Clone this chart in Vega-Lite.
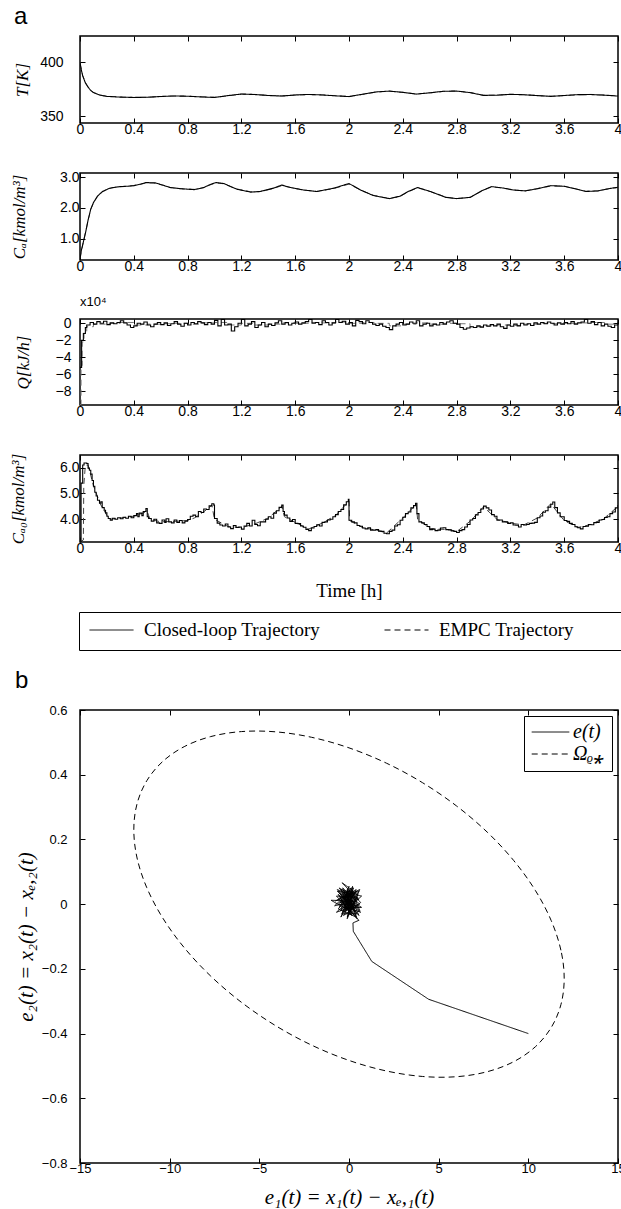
{
"$schema": "https://vega.github.io/schema/vega-lite/v6.json",
"background": "white",
"padding": {"left": 8, "top": 3, "right": 0, "bottom": 0},
"config": {
  "view": {"stroke": "black", "strokeWidth": 1.5},
  "axis": {"domain": false, "grid": false, "tickSize": -5, "tickColor": "black", "tickWidth": 1, "labelFont": "Liberation Sans", "labelFontSize": 14, "labelColor": "black", "labelFlush": false, "labelOverlap": false, "titleFont": "Liberation Serif", "titleFontStyle": "italic", "titleFontWeight": "normal", "titleFontSize": 17, "titleColor": "black"},
  "title": {"font": "Liberation Sans", "fontWeight": "normal", "color": "black", "anchor": "start", "frame": "group", "baseline": "alphabetic"}
},
"datasets": {
  "T": [
    {"t":0,"cl":400,"empc":399},{"t":0.01,"cl":393,"empc":393.5},{"t":0.02,"cl":387.5,"empc":388},{"t":0.04,"cl":381,"empc":381.5},{"t":0.06,"cl":377,"empc":377.3},{"t":0.08,"cl":374,"empc":374.2},{"t":0.1,"cl":372,"empc":372.1},{"t":0.15,"cl":369.6,"empc":369.7},{"t":0.2,"cl":368.5,"empc":368.6},{"t":0.3,"cl":367.8,"empc":367.9},{"t":0.4,"cl":367.5,"empc":367.5},{"t":0.5,"cl":367.7,"empc":367.6},{"t":0.6,"cl":368.4,"empc":368.3},{"t":0.7,"cl":368.9,"empc":368.8},{"t":0.8,"cl":368.6,"empc":368.7},{"t":0.9,"cl":368.0,"empc":368.1},{"t":1.0,"cl":367.5,"empc":367.6},{"t":1.1,"cl":369.2,"empc":369.0},{"t":1.2,"cl":370.7,"empc":370.5},{"t":1.3,"cl":370.2,"empc":370.3},{"t":1.4,"cl":369.3,"empc":369.4},{"t":1.5,"cl":368.8,"empc":368.9},{"t":1.6,"cl":369.8,"empc":369.7},{"t":1.7,"cl":370.3,"empc":370.2},{"t":1.8,"cl":369.8,"empc":369.9},{"t":1.9,"cl":369.0,"empc":369.1},{"t":2.0,"cl":368.3,"empc":368.4},{"t":2.1,"cl":370.5,"empc":370.3},{"t":2.2,"cl":372.6,"empc":372.5},{"t":2.3,"cl":373.4,"empc":373.3},{"t":2.4,"cl":372.2,"empc":372.3},{"t":2.5,"cl":370.6,"empc":370.7},{"t":2.6,"cl":371.8,"empc":371.7},{"t":2.7,"cl":373.2,"empc":373.1},{"t":2.8,"cl":373.4,"empc":373.5},{"t":2.9,"cl":372.0,"empc":372.1},{"t":3.0,"cl":369.4,"empc":369.5},{"t":3.1,"cl":369.6,"empc":369.7},{"t":3.2,"cl":370.4,"empc":370.3},{"t":3.3,"cl":370.0,"empc":370.1},{"t":3.4,"cl":369.2,"empc":369.3},{"t":3.5,"cl":368.5,"empc":368.6},{"t":3.6,"cl":369.3,"empc":369.2},{"t":3.7,"cl":370.1,"empc":370.0},{"t":3.8,"cl":370.2,"empc":370.3},{"t":3.9,"cl":369.6,"empc":369.7},{"t":4.0,"cl":368.8,"empc":368.9}
  ],
  "CA": [
    {"t":0,"cl":0.34,"empc":0.36},{"t":0.01,"cl":0.62,"empc":0.6},{"t":0.02,"cl":0.8,"empc":0.8},{"t":0.043,"cl":1.23,"empc":1.25},{"t":0.06,"cl":1.6,"empc":1.6},{"t":0.08,"cl":1.96,"empc":1.95},{"t":0.1,"cl":2.17,"empc":2.16},{"t":0.13,"cl":2.38,"empc":2.37},{"t":0.167,"cl":2.53,"empc":2.52},{"t":0.216,"cl":2.63,"empc":2.63},{"t":0.25,"cl":2.66,"empc":2.66},{"t":0.3,"cl":2.69,"empc":2.68},{"t":0.35,"cl":2.7,"empc":2.7},{"t":0.4,"cl":2.72,"empc":2.72},{"t":0.45,"cl":2.77,"empc":2.76},{"t":0.49,"cl":2.82,"empc":2.81},{"t":0.56,"cl":2.81,"empc":2.8},{"t":0.62,"cl":2.73,"empc":2.73},{"t":0.67,"cl":2.66,"empc":2.66},{"t":0.75,"cl":2.62,"empc":2.62},{"t":0.85,"cl":2.59,"empc":2.6},{"t":0.92,"cl":2.66,"empc":2.65},{"t":0.97,"cl":2.76,"empc":2.75},{"t":1.01,"cl":2.82,"empc":2.81},{"t":1.07,"cl":2.79,"empc":2.78},{"t":1.12,"cl":2.69,"empc":2.69},{"t":1.17,"cl":2.6,"empc":2.61},{"t":1.27,"cl":2.51,"empc":2.52},{"t":1.34,"cl":2.53,"empc":2.53},{"t":1.44,"cl":2.64,"empc":2.63},{"t":1.5,"cl":2.74,"empc":2.72},{"t":1.565,"cl":2.66,"empc":2.66},{"t":1.66,"cl":2.58,"empc":2.58},{"t":1.76,"cl":2.53,"empc":2.53},{"t":1.89,"cl":2.64,"empc":2.63},{"t":2.0,"cl":2.79,"empc":2.77},{"t":2.085,"cl":2.58,"empc":2.58},{"t":2.18,"cl":2.4,"empc":2.41},{"t":2.3,"cl":2.3,"empc":2.3},{"t":2.38,"cl":2.38,"empc":2.37},{"t":2.44,"cl":2.53,"empc":2.52},{"t":2.51,"cl":2.66,"empc":2.65},{"t":2.605,"cl":2.53,"empc":2.53},{"t":2.72,"cl":2.34,"empc":2.35},{"t":2.8,"cl":2.3,"empc":2.3},{"t":2.9,"cl":2.34,"empc":2.34},{"t":2.99,"cl":2.56,"empc":2.55},{"t":3.06,"cl":2.69,"empc":2.68},{"t":3.15,"cl":2.64,"empc":2.64},{"t":3.22,"cl":2.58,"empc":2.58},{"t":3.31,"cl":2.55,"empc":2.55},{"t":3.4,"cl":2.62,"empc":2.62},{"t":3.5,"cl":2.72,"empc":2.71},{"t":3.6,"cl":2.7,"empc":2.7},{"t":3.68,"cl":2.62,"empc":2.62},{"t":3.76,"cl":2.53,"empc":2.54},{"t":3.85,"cl":2.55,"empc":2.55},{"t":3.93,"cl":2.62,"empc":2.62},{"t":4.0,"cl":2.67,"empc":2.66}
  ],
  "Qcl": [
    {"t":0,"v":-5.2},{"t":0.012,"v":-2.0},{"t":0.025,"v":-1.2},{"t":0.04,"v":-0.5},{"t":0.05,"v":-0.2},{"t":0.075,"v":0.1},{"t":0.1,"v":-0.1},{"t":0.125,"v":0.2},{"t":0.15,"v":0.0},{"t":0.175,"v":0.25},{"t":0.2,"v":-0.15},{"t":0.225,"v":0.05},{"t":0.25,"v":-0.05},{"t":0.275,"v":0.1},{"t":0.3,"v":0.3},{"t":0.325,"v":0.05},{"t":0.35,"v":-0.2},{"t":0.375,"v":-0.5},{"t":0.4,"v":-0.3},{"t":0.425,"v":0.0},{"t":0.45,"v":-0.1},{"t":0.475,"v":0.15},{"t":0.5,"v":-0.2},{"t":0.525,"v":-0.4},{"t":0.55,"v":-0.1},{"t":0.575,"v":0.1},{"t":0.6,"v":-0.15},{"t":0.625,"v":0.05},{"t":0.65,"v":-0.25},{"t":0.675,"v":-0.05},{"t":0.7,"v":0.2},{"t":0.725,"v":-0.1},{"t":0.75,"v":-0.35},{"t":0.775,"v":0.0},{"t":0.8,"v":-0.2},{"t":0.825,"v":0.1},{"t":0.85,"v":-0.05},{"t":0.875,"v":0.2},{"t":0.9,"v":0.05},{"t":0.925,"v":-0.15},{"t":0.95,"v":0.1},{"t":0.975,"v":-0.1},{"t":1.0,"v":0.35},{"t":1.025,"v":-0.3},{"t":1.05,"v":0.45},{"t":1.075,"v":-0.2},{"t":1.1,"v":-0.1},{"t":1.125,"v":-0.9},{"t":1.15,"v":-0.4},{"t":1.175,"v":0.0},{"t":1.2,"v":0.45},{"t":1.225,"v":-0.3},{"t":1.25,"v":-0.1},{"t":1.275,"v":0.2},{"t":1.3,"v":-0.5},{"t":1.325,"v":-0.2},{"t":1.35,"v":0.1},{"t":1.375,"v":-0.4},{"t":1.4,"v":-0.1},{"t":1.425,"v":-0.25},{"t":1.45,"v":0.05},{"t":1.475,"v":0.3},{"t":1.5,"v":-0.1},{"t":1.525,"v":0.1},{"t":1.55,"v":-0.2},{"t":1.575,"v":0.0},{"t":1.6,"v":0.15},{"t":1.625,"v":-0.1},{"t":1.65,"v":0.05},{"t":1.675,"v":0.2},{"t":1.7,"v":0.45},{"t":1.725,"v":0.0},{"t":1.75,"v":0.1},{"t":1.775,"v":-0.15},{"t":1.8,"v":0.3},{"t":1.825,"v":0.1},{"t":1.85,"v":-0.2},{"t":1.875,"v":0.05},{"t":1.9,"v":0.45},{"t":1.925,"v":0.1},{"t":1.95,"v":0.25},{"t":1.975,"v":-0.1},{"t":2.0,"v":0.1},{"t":2.025,"v":-0.3},{"t":2.05,"v":0.35},{"t":2.075,"v":0.2},{"t":2.1,"v":-0.05},{"t":2.125,"v":0.3},{"t":2.15,"v":0.1},{"t":2.175,"v":-0.1},{"t":2.2,"v":-0.25},{"t":2.225,"v":-0.1},{"t":2.25,"v":-0.35},{"t":2.275,"v":-0.5},{"t":2.3,"v":-0.75},{"t":2.325,"v":-0.3},{"t":2.35,"v":-0.1},{"t":2.375,"v":0.1},{"t":2.4,"v":-0.2},{"t":2.425,"v":-0.1},{"t":2.45,"v":0.15},{"t":2.475,"v":0.0},{"t":2.5,"v":0.3},{"t":2.525,"v":-0.3},{"t":2.55,"v":-0.1},{"t":2.575,"v":0.0},{"t":2.6,"v":-0.3},{"t":2.625,"v":-0.1},{"t":2.65,"v":-0.2},{"t":2.675,"v":0.1},{"t":2.7,"v":-0.1},{"t":2.725,"v":0.15},{"t":2.75,"v":0.3},{"t":2.775,"v":0.0},{"t":2.8,"v":-0.1},{"t":2.825,"v":-0.5},{"t":2.85,"v":-0.7},{"t":2.875,"v":-0.55},{"t":2.9,"v":-0.4},{"t":2.925,"v":-0.5},{"t":2.95,"v":-0.3},{"t":2.975,"v":-0.45},{"t":3.0,"v":-0.2},{"t":3.025,"v":-0.35},{"t":3.05,"v":-0.15},{"t":3.075,"v":-0.3},{"t":3.1,"v":-0.1},{"t":3.125,"v":-0.4},{"t":3.15,"v":-0.6},{"t":3.175,"v":-0.2},{"t":3.2,"v":-0.35},{"t":3.225,"v":-0.1},{"t":3.25,"v":-0.3},{"t":3.275,"v":0.0},{"t":3.3,"v":-0.2},{"t":3.325,"v":-0.05},{"t":3.35,"v":-0.25},{"t":3.375,"v":0.05},{"t":3.4,"v":-0.1},{"t":3.425,"v":0.1},{"t":3.45,"v":-0.05},{"t":3.475,"v":0.15},{"t":3.5,"v":0.0},{"t":3.525,"v":-0.2},{"t":3.55,"v":0.05},{"t":3.575,"v":-0.1},{"t":3.6,"v":0.1},{"t":3.625,"v":-0.05},{"t":3.65,"v":0.2},{"t":3.675,"v":-0.1},{"t":3.7,"v":0.05},{"t":3.725,"v":0.15},{"t":3.75,"v":0.45},{"t":3.775,"v":0.0},{"t":3.8,"v":0.2},{"t":3.825,"v":-0.15},{"t":3.85,"v":0.1},{"t":3.875,"v":-0.3},{"t":3.9,"v":-0.1},{"t":3.925,"v":-0.35},{"t":3.95,"v":-0.5},{"t":3.975,"v":-0.2},{"t":4.0,"v":0.1}
  ],
  "Qempc": [
    {"t":0,"v":-9.6},{"t":0.008,"v":-5.0},{"t":0.016,"v":-2.2},{"t":0.03,"v":-1.0},{"t":0.05,"v":-0.4},{"t":0.1,"v":-0.1},{"t":0.2,"v":0.0},{"t":0.3,"v":0.1},{"t":0.4,"v":-0.2},{"t":0.5,"v":-0.1},{"t":0.6,"v":-0.05},{"t":0.7,"v":0.0},{"t":0.8,"v":-0.1},{"t":0.9,"v":0.05},{"t":1.0,"v":0.1},{"t":1.1,"v":-0.2},{"t":1.2,"v":0.0},{"t":1.3,"v":-0.2},{"t":1.4,"v":-0.1},{"t":1.5,"v":0.05},{"t":1.6,"v":0.0},{"t":1.7,"v":0.1},{"t":1.8,"v":0.05},{"t":1.9,"v":0.15},{"t":2.0,"v":0.0},{"t":2.1,"v":0.1},{"t":2.2,"v":0.0},{"t":2.3,"v":-0.3},{"t":2.4,"v":-0.1},{"t":2.5,"v":0.05},{"t":2.6,"v":-0.1},{"t":2.7,"v":0.0},{"t":2.8,"v":-0.05},{"t":2.9,"v":-0.4},{"t":3.0,"v":-0.3},{"t":3.1,"v":-0.2},{"t":3.2,"v":-0.25},{"t":3.3,"v":-0.1},{"t":3.4,"v":0.0},{"t":3.5,"v":-0.05},{"t":3.6,"v":0.0},{"t":3.7,"v":0.05},{"t":3.8,"v":0.1},{"t":3.9,"v":-0.1},{"t":4.0,"v":-0.05}
  ],
  "CA0cl": [
    {"t":0,"v":3.12},{"t":0.008,"v":5.4},{"t":0.02,"v":6.1},{"t":0.03,"v":6.18},{"t":0.05,"v":6.16},{"t":0.06,"v":5.98},{"t":0.07,"v":5.9},{"t":0.08,"v":5.75},{"t":0.09,"v":5.5},{"t":0.1,"v":5.28},{"t":0.11,"v":5.05},{"t":0.12,"v":4.9},{"t":0.13,"v":4.74},{"t":0.145,"v":4.62},{"t":0.155,"v":4.68},{"t":0.165,"v":4.45},{"t":0.18,"v":4.35},{"t":0.19,"v":4.25},{"t":0.2,"v":4.12},{"t":0.21,"v":4.03},{"t":0.225,"v":3.96},{"t":0.24,"v":4.04},{"t":0.26,"v":4.0},{"t":0.28,"v":4.06},{"t":0.3,"v":4.02},{"t":0.32,"v":4.08},{"t":0.34,"v":4.04},{"t":0.36,"v":4.12},{"t":0.38,"v":4.06},{"t":0.4,"v":4.14},{"t":0.42,"v":4.22},{"t":0.43,"v":4.1},{"t":0.44,"v":4.24},{"t":0.46,"v":4.14},{"t":0.47,"v":4.3},{"t":0.49,"v":4.42},{"t":0.5,"v":4.1},{"t":0.51,"v":4.03},{"t":0.53,"v":3.93},{"t":0.55,"v":4.0},{"t":0.57,"v":3.86},{"t":0.59,"v":3.84},{"t":0.61,"v":3.97},{"t":0.63,"v":3.88},{"t":0.64,"v":4.02},{"t":0.66,"v":3.9},{"t":0.68,"v":3.86},{"t":0.7,"v":3.97},{"t":0.72,"v":3.88},{"t":0.74,"v":3.95},{"t":0.76,"v":3.86},{"t":0.78,"v":3.93},{"t":0.8,"v":3.99},{"t":0.82,"v":4.12},{"t":0.84,"v":4.16},{"t":0.86,"v":4.1},{"t":0.88,"v":4.3},{"t":0.9,"v":4.26},{"t":0.92,"v":4.4},{"t":0.94,"v":4.38},{"t":0.96,"v":4.52},{"t":0.98,"v":4.6},{"t":0.995,"v":4.55},{"t":1.0,"v":4.03},{"t":1.02,"v":3.85},{"t":1.04,"v":3.78},{"t":1.06,"v":3.74},{"t":1.08,"v":3.82},{"t":1.1,"v":3.7},{"t":1.12,"v":3.64},{"t":1.14,"v":3.76},{"t":1.16,"v":3.68},{"t":1.18,"v":3.7},{"t":1.2,"v":3.62},{"t":1.22,"v":3.74},{"t":1.24,"v":3.84},{"t":1.26,"v":3.74},{"t":1.28,"v":3.96},{"t":1.3,"v":3.8},{"t":1.32,"v":3.75},{"t":1.34,"v":3.9},{"t":1.36,"v":3.9},{"t":1.38,"v":4.0},{"t":1.4,"v":4.1},{"t":1.42,"v":4.04},{"t":1.44,"v":4.24},{"t":1.46,"v":4.33},{"t":1.48,"v":4.46},{"t":1.5,"v":4.55},{"t":1.51,"v":4.3},{"t":1.52,"v":4.16},{"t":1.54,"v":4.05},{"t":1.56,"v":3.92},{"t":1.58,"v":3.99},{"t":1.6,"v":3.84},{"t":1.62,"v":3.83},{"t":1.64,"v":3.74},{"t":1.66,"v":3.69},{"t":1.68,"v":3.61},{"t":1.7,"v":3.56},{"t":1.72,"v":3.66},{"t":1.74,"v":3.72},{"t":1.76,"v":3.79},{"t":1.78,"v":3.74},{"t":1.8,"v":3.88},{"t":1.82,"v":3.9},{"t":1.84,"v":3.97},{"t":1.86,"v":4.0},{"t":1.88,"v":4.1},{"t":1.9,"v":4.18},{"t":1.92,"v":4.3},{"t":1.94,"v":4.38},{"t":1.96,"v":4.56},{"t":1.98,"v":4.68},{"t":1.995,"v":4.77},{"t":2.0,"v":3.96},{"t":2.02,"v":3.9},{"t":2.04,"v":3.86},{"t":2.06,"v":3.76},{"t":2.08,"v":3.73},{"t":2.1,"v":3.66},{"t":2.12,"v":3.63},{"t":2.14,"v":3.67},{"t":2.16,"v":3.58},{"t":2.18,"v":3.58},{"t":2.2,"v":3.6},{"t":2.22,"v":3.54},{"t":2.24,"v":3.53},{"t":2.26,"v":3.46},{"t":2.28,"v":3.44},{"t":2.3,"v":3.53},{"t":2.32,"v":3.58},{"t":2.34,"v":3.74},{"t":2.36,"v":3.79},{"t":2.38,"v":3.96},{"t":2.4,"v":4.08},{"t":2.42,"v":4.22},{"t":2.44,"v":4.28},{"t":2.46,"v":4.44},{"t":2.48,"v":4.53},{"t":2.495,"v":4.62},{"t":2.505,"v":4.22},{"t":2.52,"v":3.9},{"t":2.54,"v":3.86},{"t":2.56,"v":3.8},{"t":2.58,"v":3.72},{"t":2.6,"v":3.6},{"t":2.62,"v":3.62},{"t":2.64,"v":3.56},{"t":2.66,"v":3.58},{"t":2.68,"v":3.66},{"t":2.7,"v":3.67},{"t":2.72,"v":3.6},{"t":2.74,"v":3.59},{"t":2.76,"v":3.55},{"t":2.78,"v":3.53},{"t":2.8,"v":3.49},{"t":2.82,"v":3.56},{"t":2.84,"v":3.6},{"t":2.86,"v":3.7},{"t":2.88,"v":3.8},{"t":2.9,"v":3.97},{"t":2.92,"v":4.03},{"t":2.94,"v":4.17},{"t":2.96,"v":4.26},{"t":2.98,"v":4.4},{"t":3.0,"v":4.51},{"t":3.02,"v":4.44},{"t":3.04,"v":4.36},{"t":3.06,"v":4.18},{"t":3.08,"v":4.12},{"t":3.1,"v":3.96},{"t":3.12,"v":3.97},{"t":3.14,"v":3.9},{"t":3.16,"v":3.9},{"t":3.18,"v":3.84},{"t":3.2,"v":3.86},{"t":3.22,"v":3.78},{"t":3.24,"v":3.77},{"t":3.26,"v":3.7},{"t":3.28,"v":3.8},{"t":3.3,"v":3.78},{"t":3.32,"v":3.8},{"t":3.34,"v":3.84},{"t":3.36,"v":3.85},{"t":3.38,"v":3.88},{"t":3.4,"v":4.06},{"t":3.42,"v":4.13},{"t":3.44,"v":4.27},{"t":3.46,"v":4.33},{"t":3.48,"v":4.47},{"t":3.5,"v":4.58},{"t":3.515,"v":4.67},{"t":3.53,"v":4.45},{"t":3.55,"v":4.25},{"t":3.57,"v":4.1},{"t":3.6,"v":3.95},{"t":3.62,"v":3.92},{"t":3.64,"v":3.84},{"t":3.66,"v":3.8},{"t":3.68,"v":3.71},{"t":3.7,"v":3.67},{"t":3.72,"v":3.63},{"t":3.74,"v":3.72},{"t":3.76,"v":3.73},{"t":3.78,"v":3.8},{"t":3.8,"v":3.79},{"t":3.82,"v":3.87},{"t":3.84,"v":3.88},{"t":3.86,"v":3.97},{"t":3.88,"v":3.99},{"t":3.9,"v":4.07},{"t":3.92,"v":4.1},{"t":3.94,"v":4.22},{"t":3.96,"v":4.28},{"t":3.98,"v":4.44},{"t":4.0,"v":4.55}
  ],
  "CA0empc": [
    {"t":0,"v":3.12},{"t":0.025,"v":3.2},{"t":0.028,"v":5.3},{"t":0.04,"v":6.1},{"t":0.06,"v":6.1},{"t":0.1,"v":5.3},{"t":0.15,"v":4.6},{"t":0.2,"v":4.15},{"t":0.23,"v":4.0},{"t":0.3,"v":4.05},{"t":0.4,"v":4.12},{"t":0.5,"v":4.3},{"t":0.52,"v":4.0},{"t":0.6,"v":3.9},{"t":0.7,"v":3.92},{"t":0.8,"v":3.95},{"t":0.85,"v":4.05},{"t":0.95,"v":4.4},{"t":0.98,"v":4.55},{"t":1.0,"v":4.0},{"t":1.1,"v":3.72},{"t":1.2,"v":3.68},{"t":1.3,"v":3.82},{"t":1.4,"v":4.05},{"t":1.5,"v":4.5},{"t":1.52,"v":4.1},{"t":1.6,"v":3.88},{"t":1.7,"v":3.62},{"t":1.8,"v":3.85},{"t":1.9,"v":4.15},{"t":2.0,"v":4.7},{"t":2.005,"v":3.95},{"t":2.1,"v":3.68},{"t":2.2,"v":3.58},{"t":2.28,"v":3.47},{"t":2.4,"v":4.05},{"t":2.5,"v":4.58},{"t":2.51,"v":4.0},{"t":2.6,"v":3.65},{"t":2.65,"v":3.62},{"t":2.75,"v":3.6},{"t":2.8,"v":3.52},{"t":2.9,"v":3.92},{"t":3.0,"v":4.48},{"t":3.1,"v":4.0},{"t":3.2,"v":3.85},{"t":3.3,"v":3.78},{"t":3.4,"v":4.05},{"t":3.5,"v":4.6},{"t":3.6,"v":3.95},{"t":3.7,"v":3.68},{"t":3.8,"v":3.8},{"t":3.9,"v":4.05},{"t":4.0,"v":4.5}
  ],
  "ell": [
    {"i":0,"x":12,"y":-0.23},{"i":1,"x":11.818,"y":-0.1426},{"i":2,"x":11.276,"y":-0.0509},{"i":3,"x":10.392,"y":0.0423},{"i":4,"x":9.192,"y":0.1343},{"i":5,"x":7.714,"y":0.2222},{"i":6,"x":6.0,"y":0.3033},{"i":7,"x":4.104,"y":0.3752},{"i":8,"x":2.083,"y":0.4358},{"i":9,"x":0,"y":0.483},{"i":10,"x":-2.083,"y":0.5156},{"i":11,"x":-4.104,"y":0.5326},{"i":12,"x":-6.0,"y":0.5333},{"i":13,"x":-7.714,"y":0.5178},{"i":14,"x":-9.192,"y":0.4867},{"i":15,"x":-10.392,"y":0.4407},{"i":16,"x":-11.276,"y":0.3813},{"i":17,"x":-11.818,"y":0.3104},{"i":18,"x":-12,"y":0.23},{"i":19,"x":-11.818,"y":0.1426},{"i":20,"x":-11.276,"y":0.0509},{"i":21,"x":-10.392,"y":-0.0423},{"i":22,"x":-9.192,"y":-0.1343},{"i":23,"x":-7.714,"y":-0.2222},{"i":24,"x":-6.0,"y":-0.3033},{"i":25,"x":-4.104,"y":-0.3752},{"i":26,"x":-2.083,"y":-0.4358},{"i":27,"x":0,"y":-0.483},{"i":28,"x":2.083,"y":-0.5156},{"i":29,"x":4.104,"y":-0.5326},{"i":30,"x":6.0,"y":-0.5333},{"i":31,"x":7.714,"y":-0.5178},{"i":32,"x":9.192,"y":-0.4867},{"i":33,"x":10.392,"y":-0.4407},{"i":34,"x":11.276,"y":-0.3813},{"i":35,"x":11.818,"y":-0.3104}
  ],
  "traj": [
    {"i":0,"x":10,"y":-0.4},{"i":1,"x":4.44,"y":-0.294},{"i":2,"x":1.27,"y":-0.177},{"i":3,"x":0.24,"y":-0.084},{"i":4,"x":0.22,"y":-0.058},{"i":5,"x":0.55,"y":-0.05},{"i":6,"x":0.3,"y":-0.035},{"i":7,"x":-0.2,"y":0.02},{"i":8,"x":0.45,"y":0.04},{"i":9,"x":-0.55,"y":-0.01},{"i":10,"x":0.1,"y":0.05},{"i":11,"x":0.6,"y":-0.02},{"i":12,"x":-0.35,"y":0.035},{"i":13,"x":0.2,"y":-0.03},{"i":14,"x":-0.7,"y":0.025},{"i":15,"x":0.35,"y":0.02},{"i":16,"x":-0.1,"y":-0.04},{"i":17,"x":0.5,"y":0.03},{"i":18,"x":-0.45,"y":0.045},{"i":19,"x":0.0,"y":-0.02},{"i":20,"x":-1.0,"y":0.012},{"i":21,"x":0.15,"y":0.01},{"i":22,"x":-0.3,"y":-0.035},{"i":23,"x":0.65,"y":0.005},{"i":24,"x":-0.2,"y":0.055},{"i":25,"x":-0.38,"y":0.066},{"i":26,"x":0.25,"y":0.04},{"i":27,"x":-0.6,"y":-0.015},{"i":28,"x":0.4,"y":-0.04},{"i":29,"x":-0.15,"y":0.03},{"i":30,"x":0.55,"y":0.015},{"i":31,"x":-0.5,"y":0.005},{"i":32,"x":0.05,"y":0.045},{"i":33,"x":-0.25,"y":-0.025},{"i":34,"x":0.7,"y":0.025},{"i":35,"x":-0.65,"y":0.04},{"i":36,"x":0.3,"y":-0.015},{"i":37,"x":-0.05,"y":0.02},{"i":38,"x":0.45,"y":-0.03},{"i":39,"x":-0.4,"y":-0.03},{"i":40,"x":0.1,"y":0.035},{"i":41,"x":-0.75,"y":0.01},{"i":42,"x":0.6,"y":0.045},{"i":43,"x":-0.1,"y":-0.045},{"i":44,"x":0.2,"y":0.025},{"i":45,"x":-0.55,"y":0.05},{"i":46,"x":0.5,"y":-0.01},{"i":47,"x":-0.3,"y":0.015},{"i":48,"x":0.0,"y":0.055},{"i":49,"x":-0.45,"y":-0.02},{"i":50,"x":0.35,"y":0.035},{"i":51,"x":-0.15,"y":-0.01},{"i":52,"x":0.65,"y":-0.025},{"i":53,"x":-0.6,"y":0.03},{"i":54,"x":0.15,"y":-0.035},{"i":55,"x":-0.35,"y":0.05},{"i":56,"x":0.4,"y":0.01},{"i":57,"x":-0.8,"y":-0.005},{"i":58,"x":0.25,"y":0.05},{"i":59,"x":-0.2,"y":-0.02},{"i":60,"x":0.55,"y":0.04},{"i":61,"x":-0.5,"y":0.02},{"i":62,"x":0.05,"y":-0.03},{"i":63,"x":-0.25,"y":0.04},{"i":64,"x":0.6,"y":0.0},{"i":65,"x":-0.7,"y":-0.025},{"i":66,"x":0.3,"y":0.025},{"i":67,"x":-0.1,"y":0.045},{"i":68,"x":0.45,"y":-0.045},{"i":69,"x":-0.4,"y":0.01},{"i":70,"x":0.1,"y":0.0},{"i":71,"x":-0.65,"y":0.045},{"i":72,"x":0.5,"y":0.02},{"i":73,"x":-0.05,"y":-0.03},{"i":74,"x":0.2,"y":0.055},{"i":75,"x":-0.3,"y":-0.01},{"i":76,"x":0.7,"y":-0.01},{"i":77,"x":-0.55,"y":0.035},{"i":78,"x":0.35,"y":-0.025},{"i":79,"x":-0.15,"y":0.025},{"i":80,"x":0.4,"y":0.045},{"i":81,"x":-0.45,"y":-0.04},{"i":82,"x":0.05,"y":0.03},{"i":83,"x":0.55,"y":-0.035},{"i":84,"x":-0.25,"y":0.015},{"i":85,"x":0.25,"y":-0.005},{"i":86,"x":-0.6,"y":0.0},{"i":87,"x":0.15,"y":0.04},{"i":88,"x":-0.1,"y":0.01},{"i":89,"x":0.3,"y":0.0}
  ]
},
"bounds": "flush",
"spacing": 0,
"resolve": {"scale": {"strokeDash": "independent"}, "legend": {"strokeDash": "independent"}},
"vconcat": [
   {
    "width": 538, "height": 87,
    "title": {"text": "a", "dx": -66, "offset": 7, "fontSize": 24},
    "data": {"name": "T"},
    "layer": [
     {"mark": {"type": "line", "color": "#555", "strokeWidth": 1, "clip": true},
      "encoding": {
       "x": {"field": "t", "type": "quantitative", "scale": {"domain": [0, 4], "nice": false, "zero": false}, "axis": {"values": [0,0.4,0.8,1.2,1.6,2,2.4,2.8,3.2,3.6,4], "format": "~g", "title": null, "labelPadding": 4}},
       "y": {"field": "empc", "type": "quantitative", "scale": {"domain": [343.8, 424.5], "nice": false, "zero": false}, "axis": {"values": [350, 400], "format": "d", "title": "T[K]", "titleX": -58, "titleY": 43.5, "titleAngle": -90, "titleAlign": "center", "titleBaseline": "middle", "labelPadding": 22}},
       "strokeDash": {"datum": "EMPC Trajectory", "scale": {"domain": ["Closed-loop Trajectory", "EMPC Trajectory"], "range": [[1, 0], [6, 4]]}, "legend": null}}},
     {"mark": {"type": "line", "color": "black", "strokeWidth": 1.1, "clip": true},
      "encoding": {
       "x": {"field": "t", "type": "quantitative", "axis": {"orient": "top", "values": [0,0.4,0.8,1.2,1.6,2,2.4,2.8,3.2,3.6,4], "labels": false, "title": null}},
       "y": {"field": "cl", "type": "quantitative", "axis": {"orient": "right", "values": [350, 400], "labels": false, "title": null}},
       "strokeDash": {"datum": "Closed-loop Trajectory", "legend": null}}}
    ],
    "resolve": {"axis": {"x": "independent", "y": "independent"}}
   },
   {"width": 538, "height": 50, "data": {"values": []}, "mark": {"type": "point"}, "encoding": {}, "view": {"stroke": null}},
   {
    "width": 538, "height": 87,
    "data": {"name": "CA"},
    "layer": [
     {"mark": {"type": "line", "color": "#555", "strokeWidth": 1, "clip": true},
      "encoding": {
       "x": {"field": "t", "type": "quantitative", "scale": {"domain": [0, 4], "nice": false, "zero": false}, "axis": {"values": [0,0.4,0.8,1.2,1.6,2,2.4,2.8,3.2,3.6,4], "format": "~g", "title": null, "labelPadding": 4}},
       "y": {"field": "empc", "type": "quantitative", "scale": {"domain": [0.31, 3.13], "nice": false, "zero": false}, "axis": {"values": [1, 2, 3], "format": ".1f", "title": "Cₐ[kmol/m³]", "titleX": -61, "titleY": 43.5, "titleAngle": -90, "titleAlign": "center", "titleBaseline": "middle", "labelPadding": 6}},
       "strokeDash": {"datum": "EMPC Trajectory", "scale": {"domain": ["Closed-loop Trajectory", "EMPC Trajectory"], "range": [[1, 0], [6, 4]]}, "legend": null}}},
     {"mark": {"type": "line", "color": "black", "strokeWidth": 1.1, "clip": true},
      "encoding": {
       "x": {"field": "t", "type": "quantitative", "axis": {"orient": "top", "values": [0,0.4,0.8,1.2,1.6,2,2.4,2.8,3.2,3.6,4], "labels": false, "title": null}},
       "y": {"field": "cl", "type": "quantitative", "axis": {"orient": "right", "values": [1, 2, 3], "labels": false, "title": null}},
       "strokeDash": {"datum": "Closed-loop Trajectory", "legend": null}}}
    ],
    "resolve": {"axis": {"x": "independent", "y": "independent"}}
   },
   {"width": 538, "height": 59, "data": {"values": []}, "mark": {"type": "point"}, "encoding": {}, "view": {"stroke": null}},
   {
    "width": 538, "height": 86,
    "title": {"text": "x10⁴", "dx": 0, "offset": 7, "fontSize": 13},
    "layer": [
     {"data": {"name": "Qempc"},
      "mark": {"type": "line", "color": "#777", "strokeWidth": 1, "interpolate": "step-after", "clip": true},
      "encoding": {
       "x": {"field": "t", "type": "quantitative", "scale": {"domain": [0, 4], "nice": false, "zero": false}, "axis": {"values": [0,0.4,0.8,1.2,1.6,2,2.4,2.8,3.2,3.6,4], "format": "~g", "title": null, "labelPadding": 4}},
       "y": {"field": "v", "type": "quantitative", "scale": {"domain": [-9.65, 0.51], "nice": false, "zero": false}, "axis": {"values": [-8, -6, -4, -2, 0], "format": "d", "title": "Q[kJ/h]", "titleX": -57, "titleY": 43, "titleAngle": -90, "titleAlign": "center", "titleBaseline": "middle", "labelPadding": 14}},
       "strokeDash": {"datum": "EMPC Trajectory", "scale": {"domain": ["Closed-loop Trajectory", "EMPC Trajectory"], "range": [[1, 0], [6, 4]]}, "legend": null}}},
     {"data": {"name": "Qcl"},
      "mark": {"type": "line", "color": "black", "strokeWidth": 1.1, "interpolate": "step-after", "clip": true},
      "encoding": {
       "x": {"field": "t", "type": "quantitative", "axis": {"orient": "top", "values": [0,0.4,0.8,1.2,1.6,2,2.4,2.8,3.2,3.6,4], "labels": false, "title": null}},
       "y": {"field": "v", "type": "quantitative", "axis": {"orient": "right", "values": [-8, -6, -4, -2, 0], "labels": false, "title": null}},
       "strokeDash": {"datum": "Closed-loop Trajectory", "legend": null}}}
    ],
    "resolve": {"axis": {"x": "independent", "y": "independent"}}
   },
   {"width": 538, "height": 50, "data": {"values": []}, "mark": {"type": "point"}, "encoding": {}, "view": {"stroke": null}},
   {
    "width": 538, "height": 87,
    "layer": [
     {"data": {"name": "CA0empc"},
      "mark": {"type": "line", "color": "#444", "strokeWidth": 1, "clip": true},
      "encoding": {
       "x": {"field": "t", "type": "quantitative", "scale": {"domain": [0, 4], "nice": false, "zero": false}, "axis": {"values": [0,0.4,0.8,1.2,1.6,2,2.4,2.8,3.2,3.6,4], "format": "~g", "title": "Time [h]", "titleFontStyle": "normal", "titleFontSize": 19, "titleX": 269, "titleY": 48, "titleAlign": "center", "titleBaseline": "middle", "labelPadding": 4}},
       "y": {"field": "v", "type": "quantitative", "scale": {"domain": [3.12, 6.49], "nice": false, "zero": false}, "axis": {"values": [4, 5, 6], "format": ".1f", "title": "Cₐ₀[kmol/m³]", "titleX": -62, "titleY": 43.5, "titleAngle": -90, "titleAlign": "center", "titleBaseline": "middle", "labelPadding": 6}},
       "strokeDash": {"datum": "EMPC Trajectory", "scale": {"domain": ["Closed-loop Trajectory", "EMPC Trajectory"], "range": [[1, 0], [6, 4]]},
        "legend": {"orient": "none", "legendX": -1, "legendY": 157, "direction": "horizontal", "title": " ", "titleOrient": "right", "titlePadding": 39, "titleFontSize": 10, "padding": 10, "clipHeight": 16, "strokeColor": "black", "fillColor": "white", "symbolType": "stroke", "symbolSize": 1936, "symbolStrokeColor": "black", "symbolStrokeWidth": 1, "labelFont": "Liberation Serif", "labelFontStyle": "normal", "labelFontSize": 19, "labelColor": "black", "labelOffset": 10, "columnPadding": 63, "labelLimit": 400}}}},
     {"data": {"name": "CA0cl"},
      "mark": {"type": "line", "color": "black", "strokeWidth": 1.1, "interpolate": "step-after", "clip": true},
      "encoding": {
       "x": {"field": "t", "type": "quantitative", "axis": {"orient": "top", "values": [0,0.4,0.8,1.2,1.6,2,2.4,2.8,3.2,3.6,4], "labels": false, "title": null}},
       "y": {"field": "v", "type": "quantitative", "axis": {"orient": "right", "values": [4, 5, 6], "labels": false, "title": null}},
       "strokeDash": {"datum": "Closed-loop Trajectory"}}}
    ],
    "resolve": {"axis": {"x": "independent", "y": "independent"}}
   },
   {"width": 538, "height": 168, "data": {"values": []}, "mark": {"type": "point"}, "encoding": {}, "view": {"stroke": null}},
   {
    "width": 538, "height": 453,
    "title": {"text": "b", "dx": -65, "offset": 11, "fontSize": 24},
    "layer": [
     {"data": {"name": "ell"},
      "mark": {"type": "line", "color": "black", "strokeWidth": 1, "interpolate": "cardinal-closed", "clip": true},
      "encoding": {
       "x": {"field": "x", "type": "quantitative", "scale": {"domain": [-15, 15], "nice": false, "zero": false}, "axis": {"values": [-15,-10,-5,0,5,10,15], "format": "d", "labelFontSize": 13, "labelPadding": 4, "title": "e₁(t) = x₁(t) − xₑ,₁(t)", "titleFontSize": 21, "titleX": 269, "titleY": 34, "titleAlign": "center", "titleBaseline": "middle"}},
       "y": {"field": "y", "type": "quantitative", "scale": {"domain": [-0.8, 0.6], "nice": false, "zero": false}, "axis": {"values": [-0.8,-0.6,-0.4,-0.2,0,0.2,0.4,0.6], "format": "~g", "labelFontSize": 13, "labelPadding": 18, "title": "e₂(t) = x₂(t) − xₑ,₂(t)", "titleFontSize": 21, "titleX": -54, "titleY": 226.5, "titleAngle": -90, "titleAlign": "center", "titleBaseline": "middle"}},
       "order": {"field": "i", "type": "quantitative"},
       "strokeDash": {"datum": "Ωᵨ⁎", "scale": {"domain": ["e(t)", "Ωᵨ⁎"], "range": [[1, 0], [6, 4]]},
        "legend": {"orient": "top-right", "offset": 6, "title": null, "padding": 7, "clipHeight": 18, "strokeColor": "black", "fillColor": "white", "symbolType": "stroke", "symbolSize": 1414, "symbolStrokeColor": "black", "symbolStrokeWidth": 1, "labelFont": "Liberation Serif", "labelFontStyle": "italic", "labelFontSize": 20, "labelColor": "black", "labelOffset": 3, "rowPadding": 2}}}},
     {"data": {"name": "traj"},
      "mark": {"type": "line", "color": "black", "strokeWidth": 1, "clip": true},
      "encoding": {
       "x": {"field": "x", "type": "quantitative", "axis": {"orient": "top", "values": [-15,-10,-5,0,5,10,15], "labels": false, "title": null}},
       "y": {"field": "y", "type": "quantitative", "axis": {"orient": "right", "values": [-0.8,-0.6,-0.4,-0.2,0,0.2,0.4,0.6], "labels": false, "title": null}},
       "order": {"field": "i", "type": "quantitative"},
       "strokeDash": {"datum": "e(t)"}}}
    ],
    "resolve": {"axis": {"x": "independent", "y": "independent"}}
   }
]
}
